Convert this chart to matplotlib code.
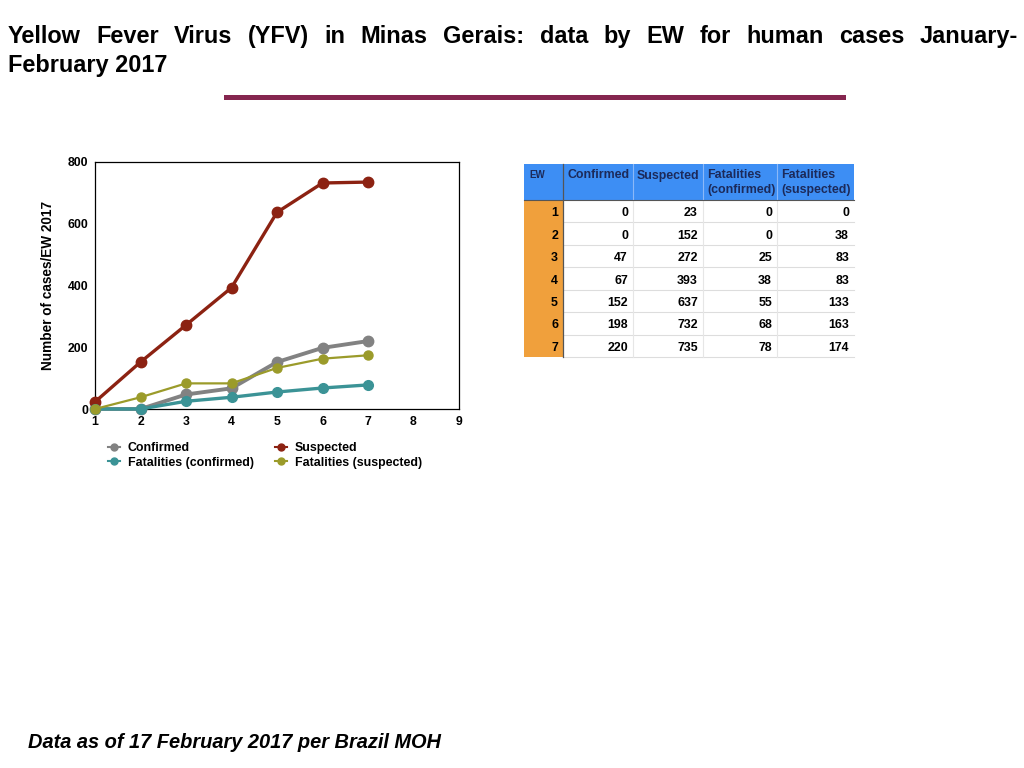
import matplotlib
matplotlib.use("Agg")
import matplotlib.pyplot as plt
from matplotlib.patches import Rectangle
from matplotlib.lines import Line2D

plt.rcParams["font.family"] = ["Liberation Sans", "DejaVu Sans"]
plt.rcParams["font.weight"] = "bold"

# data (epidemiological week, cumulative counts)
weeks = [1, 2, 3, 4, 5, 6, 7]
confirmed = [0, 0, 47, 67, 152, 198, 220]
suspected = [23, 152, 272, 393, 637, 732, 735]
fat_confirmed = [0, 0, 25, 38, 55, 68, 78]
fat_suspected = [0, 38, 83, 83, 133, 163, 174]

col_headers = ["EW", "Confirmed", "Suspected", "Fatalities\n(confirmed)", "Fatalities\n(suspected)"]
x_ticks = [1, 2, 3, 4, 5, 6, 7, 8, 9]
y_ticks = [0, 200, 400, 600, 800]

W, H = 1024, 768
fig = plt.figure(figsize=(W / 100, H / 100), dpi=100)


def fx(px):
    return px / W


def fy(py):
    return 1 - py / H


# ---- title, justified first line
title_lines = ["Yellow Fever Virus (YFV) in Minas Gerais: data by EW for human cases January-",
               "February 2017"]
renderer = fig.canvas.get_renderer()
words = title_lines[0].split(" ")
texts = [fig.text(0, fy(43), w, fontsize=16.9, fontweight="bold", va="baseline") for w in words]
widths = [t.get_window_extent(renderer).width for t in texts]
left, right = 8, 1018
gap = (right - left - sum(widths)) / (len(words) - 1)
pos = left
for t, w in zip(texts, widths):
    t.set_x(fx(pos))
    pos += w + gap
fig.text(fx(8), fy(72), title_lines[1], fontsize=16.9, fontweight="bold", va="baseline")

fig.add_artist(Line2D([fx(226), fx(843)], [fy(97), fy(97)], color="#85264f", lw=3.6))

fig.text(fx(28), fy(748), "Data as of 17 February 2017 per Brazil MOH",
         fontsize=14.4, fontweight="bold", style="italic", va="baseline")

# ---- line chart
ax = fig.add_axes([fx(95), fy(409), fx(459 - 95), (409 - 162) / H])
series = [
    ("Confirmed", confirmed, "#828282", 2.8, 7.5),
    ("Suspected", suspected, "#8c2212", 2.4, 7.5),
    ("Fatalities (confirmed)", fat_confirmed, "#3b9396", 2.4, 7),
    ("Fatalities (suspected)", fat_suspected, "#9b9b2a", 1.6, 6.5),
]
handles = {}
for name, vals, color, lw, ms in series:
    (h,) = ax.plot(weeks, vals, "-o", color=color, lw=lw, ms=ms, label=name, clip_on=False, zorder=3)
    handles[name] = h
ax.set_xlim(1, 9)
ax.set_ylim(0, 800)
ax.set_xticks(x_ticks)
ax.set_yticks(y_ticks)
ax.tick_params(length=0, labelsize=8.8, pad=5)
for lab in ax.get_xticklabels() + ax.get_yticklabels():
    lab.set_fontweight("bold")
for sp in ax.spines.values():
    sp.set_linewidth(0.9)
ax.set_ylabel("Number of cases/EW 2017", fontsize=9.8, fontweight="bold", labelpad=9)

order = ["Confirmed", "Fatalities (confirmed)", "Suspected", "Fatalities (suspected)"]
leg_handles = [Line2D([], [], color=handles[n].get_color(), marker="o", ms=5, lw=1.5) for n in order]
fig.legend(leg_handles, order, ncol=2, loc="upper left", bbox_to_anchor=(fx(97), fy(431)),
           frameon=False, handlelength=1.0, handletextpad=0.6,
           columnspacing=1.7, labelspacing=0.2, prop={"weight": "bold", "size": 8.9})

# ---- table
tx = [524, 563, 633, 703, 777, 854]
ty0, ty1 = 164, 200
row_h = (357 - 200) / len(weeks)
tab = fig.add_axes([0, 0, 1, 1])
tab.set_xlim(0, W)
tab.set_ylim(H, 0)
tab.axis("off")
tab.add_patch(Rectangle((tx[0], ty0), tx[-1] - tx[0], ty1 - ty0, color="#3d8ef4", lw=0))
tab.add_patch(Rectangle((tx[0], ty1), tx[1] - tx[0], row_h * len(weeks), color="#f0a03c", lw=0))
# header
tab.text(tx[0] + 5, ty0 + 6, col_headers[0], fontsize=7, fontweight="bold", color="#1c2a5a", va="top")
for i, hdr in enumerate(col_headers[1:], start=1):
    tab.text(tx[i] + 4, ty0 + 5.5, hdr, fontsize=8.9, fontweight="bold", color="#1c2a5a",
             va="top", linespacing=1.3)
# rows
cols = [confirmed, suspected, fat_confirmed, fat_suspected]
for r, wk in enumerate(weeks):
    yc = ty1 + row_h * (r + 0.5) + 2
    tab.text(tx[1] - 5, yc, str(wk), fontsize=8.9, fontweight="bold", ha="right", va="center")
    for c, vals in enumerate(cols, start=1):
        tab.text(tx[c + 1] - 5, yc, str(vals[r]), fontsize=8.9, fontweight="bold", ha="right", va="center")
    yl = ty1 + row_h * (r + 1)
    tab.plot([tx[1], tx[-1]], [yl, yl], color="#dddddd", lw=0.8)
for x in tx[2:-1]:
    tab.plot([x, x], [ty0, ty1], color="#8bb8f8", lw=0.8)
    tab.plot([x, x], [ty1, ty1 + row_h * len(weeks)], color="#e6e6e6", lw=0.8)
tab.plot([tx[1], tx[1]], [ty0, ty1 + row_h * len(weeks)], color="#555555", lw=0.9)
tab.plot([tx[0], tx[-1]], [ty1, ty1], color="#555555", lw=0.8)

fig.savefig("out.png", dpi=100)
